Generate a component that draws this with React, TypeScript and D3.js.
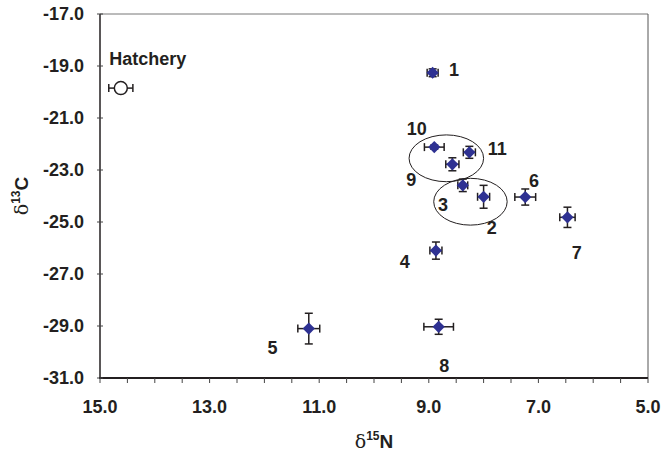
import React from "react"
import * as d3 from "d3"

// Data
const sites = ["1", "2", "3", "4", "5", "6", "7", "8", "9", "10", "11"]
const n15 = [8.93, 8.0, 8.38, 8.87, 11.19, 7.24, 6.47, 8.82, 8.57, 8.9, 8.26]
const c13 = [-19.26, -24.03, -23.59, -26.1, -29.1, -24.04, -24.82, -29.03, -22.78, -22.12, -22.32]
const n15Err = [0.1, 0.11, 0.09, 0.11, 0.2, 0.19, 0.14, 0.27, 0.12, 0.18, 0.11]
const c13Err = [0.15, 0.44, 0.24, 0.33, 0.59, 0.31, 0.39, 0.29, 0.25, 0.08, 0.23]
// label anchors in data units
const labelN = [8.54, 7.85, 8.74, 9.44, 11.85, 7.08, 6.3, 8.72, 9.32, 9.22, 7.75]
const labelC = [-19.13, -25.23, -24.35, -26.54, -29.82, -23.42, -26.17, -30.54, -23.38, -21.43, -22.18]

const hatchery = { n: 14.62, c: -19.85, nErr: 0.22, labelN: 14.13, labelC: -18.73 }

// groupings (centre, radii in data units)
const ellipseN = [8.68, 8.24]
const ellipseC = [-22.55, -24.22]
const ellipseRN = [0.68, 0.67]
const ellipseRC = [0.9, 0.9]

const xTicks = d3.range(5, 15.01, 0.5)
const xLabels = [15, 13, 11, 9, 7, 5]
const yTicks = [-17, -19, -21, -23, -25, -27, -29, -31]

export default function App() {
  // Dimensions
  const totalW = 662
  const totalH = 455
  const margin = { top: 14, right: 14, bottom: 77, left: 100 }
  const w = totalW - margin.left - margin.right
  const h = totalH - margin.top - margin.bottom

  // Scales
  const x = d3.scaleLinear().domain([15, 5]).range([0, w])
  const y = d3.scaleLinear().domain([-17, -31]).range([0, h])

  const font = "'Liberation Sans', Arial, Helvetica, sans-serif"
  const navy = "#2e3192"
  const ink = "#231f20"
  const cap = 4

  const diamond = d3.symbol().type(d3.symbolDiamond2).size(95)()

  return (
    <svg
      width={totalW}
      height={totalH}
      style={{ position: "absolute", left: 0, top: 0, background: "white" }}
      fontFamily={font}
    >
      <g transform={`translate(${margin.left}, ${margin.top})`}>
        {/* frame */}
        <line x1={0} x2={w} y1={0} y2={0} stroke="#777" strokeWidth={1} />
        <line x1={w} x2={w} y1={0} y2={h} stroke="#555" strokeWidth={1} />
        <line x1={0} x2={0} y1={0} y2={h} stroke={ink} strokeWidth={1.5} />
        <line x1={-1} x2={w} y1={h} y2={h} stroke={ink} strokeWidth={2} />

        {/* x axis */}
        {xTicks.map((t) => (
          <line key={`xt-${t}`} x1={x(t)} x2={x(t)} y1={h} y2={h + 5} stroke="#444" strokeWidth={1} />
        ))}
        {xLabels.map((t) => (
          <text
            key={`xl-${t}`}
            x={x(t)}
            y={h + 35}
            textAnchor="middle"
            fontSize={18}
            fontWeight="bold"
            fill={ink}
          >
            {t.toFixed(1)}
          </text>
        ))}

        {/* y axis */}
        {yTicks.map((t) => (
          <line key={`yt-${t}`} x1={-3} x2={3} y1={y(t)} y2={y(t)} stroke="#444" strokeWidth={1} />
        ))}
        {yTicks.map((t) => (
          <text
            key={`yl-${t}`}
            x={-16}
            y={y(t)}
            dy="0.35em"
            textAnchor="end"
            fontSize={18}
            fontWeight="bold"
            fill={ink}
          >
            {t.toFixed(1)}
          </text>
        ))}

        {/* ellipses */}
        {ellipseN.map((cn, i) => (
          <ellipse
            key={`el-${i}`}
            cx={x(cn)}
            cy={y(ellipseC[i])}
            rx={x(cn - ellipseRN[i]) - x(cn)}
            ry={y(ellipseC[i] - ellipseRC[i]) - y(ellipseC[i])}
            fill="none"
            stroke={ink}
            strokeWidth={1}
          />
        ))}

        {/* error bars */}
        {sites.map((s, i) => {
          const cx = x(n15[i])
          const cy = y(c13[i])
          const x0 = x(n15[i] + n15Err[i])
          const x1 = x(n15[i] - n15Err[i])
          const y0 = y(c13[i] + c13Err[i])
          const y1 = y(c13[i] - c13Err[i])
          return (
            <g key={`eb-${s}`} stroke={ink} strokeWidth={1.5} fill="none">
              <line x1={x0} x2={x1} y1={cy} y2={cy} />
              <line x1={x0} x2={x0} y1={cy - cap} y2={cy + cap} />
              <line x1={x1} x2={x1} y1={cy - cap} y2={cy + cap} />
              <line x1={cx} x2={cx} y1={y0} y2={y1} />
              <line x1={cx - cap} x2={cx + cap} y1={y0} y2={y0} />
              <line x1={cx - cap} x2={cx + cap} y1={y1} y2={y1} />
            </g>
          )
        })}

        {/* points */}
        {sites.map((s, i) => (
          <path
            key={`pt-${s}`}
            d={diamond || ""}
            transform={`translate(${x(n15[i])}, ${y(c13[i])})`}
            fill={navy}
          />
        ))}

        {/* labels */}
        {sites.map((s, i) => (
          <text
            key={`lb-${s}`}
            x={x(labelN[i])}
            y={y(labelC[i])}
            dy="0.35em"
            textAnchor="middle"
            fontSize={18}
            fontWeight="bold"
            fill={ink}
          >
            {s}
          </text>
        ))}

        {/* hatchery */}
        <g stroke={ink} strokeWidth={1.5}>
          <line
            x1={x(hatchery.n + hatchery.nErr)}
            x2={x(hatchery.n - hatchery.nErr)}
            y1={y(hatchery.c)}
            y2={y(hatchery.c)}
          />
          <line
            x1={x(hatchery.n + hatchery.nErr)}
            x2={x(hatchery.n + hatchery.nErr)}
            y1={y(hatchery.c) - cap}
            y2={y(hatchery.c) + cap}
          />
          <line
            x1={x(hatchery.n - hatchery.nErr)}
            x2={x(hatchery.n - hatchery.nErr)}
            y1={y(hatchery.c) - cap}
            y2={y(hatchery.c) + cap}
          />
          <circle cx={x(hatchery.n)} cy={y(hatchery.c)} r={6.5} fill="white" />
        </g>
        <text
          x={x(hatchery.labelN)}
          y={y(hatchery.labelC)}
          dy="0.35em"
          textAnchor="middle"
          fontSize={18}
          fontWeight="bold"
          fill={ink}
        >
          Hatchery
        </text>
      </g>

      {/* axis titles */}
      <text x={374} y={448} textAnchor="middle" fill={ink}>
        <tspan fontFamily="'DejaVu Serif', serif" fontSize={19}>δ</tspan>
        <tspan fontSize={12} fontWeight="bold" dy={-8}>15</tspan>
        <tspan fontSize={19} fontWeight="bold" dy={8}>N</tspan>
      </text>
      <text transform="translate(28, 196) rotate(-90)" textAnchor="middle" fill={ink}>
        <tspan fontFamily="'DejaVu Serif', serif" fontSize={19}>δ</tspan>
        <tspan fontSize={12} fontWeight="bold" dy={-8}>13</tspan>
        <tspan fontSize={19} fontWeight="bold" dy={8}>C</tspan>
      </text>
    </svg>
  )
}
